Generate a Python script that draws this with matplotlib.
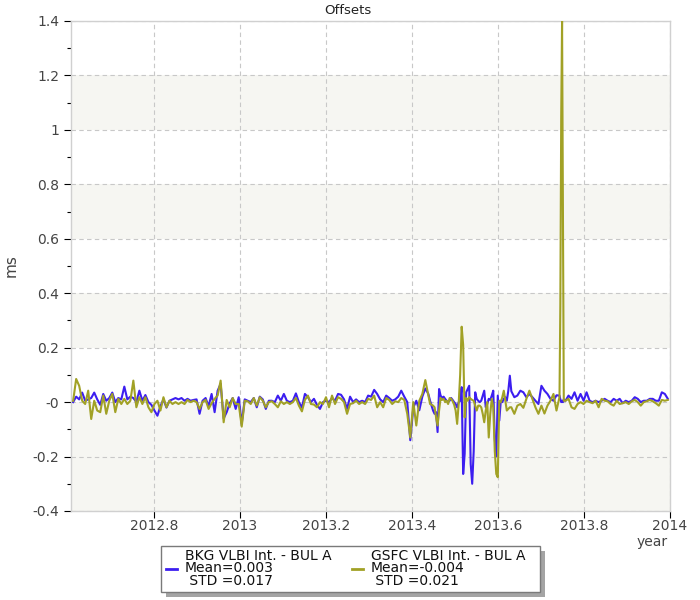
import matplotlib
matplotlib.use("Agg")
import matplotlib.pyplot as plt
from matplotlib.patches import Rectangle
from matplotlib.lines import Line2D
from matplotlib.ticker import FixedLocator, MultipleLocator

# ---------------- data ----------------
years_a = [2012.612, 2012.619, 2012.626, 2012.633, 2012.640, 2012.647, 2012.654, 2012.661, 2012.668, 2012.675,
           2012.682, 2012.689, 2012.696, 2012.703, 2012.710, 2012.717, 2012.724, 2012.731, 2012.738, 2012.745,
           2012.752, 2012.759, 2012.766, 2012.773, 2012.780, 2012.787, 2012.794, 2012.801, 2012.808, 2012.815,
           2012.822, 2012.829, 2012.836, 2012.843, 2012.850, 2012.857, 2012.864, 2012.871, 2012.878, 2012.885,
           2012.892, 2012.899, 2012.906, 2012.913, 2012.920, 2012.927, 2012.934, 2012.941, 2012.948, 2012.955,
           2012.962, 2012.969, 2012.976, 2012.983, 2012.990, 2012.997, 2013.004, 2013.011, 2013.018, 2013.025,
           2013.032, 2013.039, 2013.046, 2013.053, 2013.060, 2013.067, 2013.074, 2013.081, 2013.088, 2013.095,
           2013.102, 2013.109, 2013.116, 2013.123, 2013.130, 2013.137, 2013.144, 2013.151, 2013.158, 2013.165,
           2013.172, 2013.179, 2013.186, 2013.193, 2013.200, 2013.207, 2013.214, 2013.221, 2013.228, 2013.235,
           2013.242, 2013.249, 2013.256, 2013.263, 2013.270, 2013.277, 2013.284, 2013.291, 2013.298, 2013.305,
           2013.312, 2013.319, 2013.326, 2013.333, 2013.340, 2013.347, 2013.354, 2013.361, 2013.368, 2013.375,
           2013.382, 2013.389, 2013.396, 2013.403, 2013.410, 2013.417, 2013.424, 2013.431, 2013.438]
years_b = [2013.4420, 2013.4455, 2013.4490, 2013.4525, 2013.4560, 2013.4595, 2013.4630, 2013.4665, 2013.4700, 2013.4735,
           2013.4770, 2013.4805, 2013.4840, 2013.4875, 2013.4910, 2013.4945, 2013.4980, 2013.5015, 2013.5050, 2013.5085,
           2013.5120, 2013.5155, 2013.5190, 2013.5225, 2013.5260, 2013.5295, 2013.5330, 2013.5365, 2013.5400, 2013.5435,
           2013.5470, 2013.5505, 2013.5540, 2013.5575, 2013.5610, 2013.5645, 2013.5680, 2013.5715, 2013.5750, 2013.5785,
           2013.5820, 2013.5855, 2013.5890, 2013.5925, 2013.5960, 2013.5995, 2013.6030, 2013.6065, 2013.6100, 2013.6135,
           2013.6170, 2013.6205, 2013.6240, 2013.6275]
years_c = [2013.631, 2013.638, 2013.645, 2013.652, 2013.659, 2013.666, 2013.673, 2013.680, 2013.687, 2013.694,
           2013.701, 2013.708, 2013.715, 2013.722, 2013.729, 2013.736, 2013.743,
           2013.745, 2013.747, 2013.749, 2013.751, 2013.753,
           2013.757, 2013.764, 2013.771, 2013.778, 2013.785, 2013.792, 2013.799, 2013.806, 2013.813, 2013.820,
           2013.827, 2013.834, 2013.841, 2013.848, 2013.855, 2013.862, 2013.869, 2013.876, 2013.883, 2013.890,
           2013.897, 2013.904, 2013.911, 2013.918, 2013.925, 2013.932, 2013.939, 2013.946, 2013.953, 2013.960,
           2013.967, 2013.974, 2013.981, 2013.988, 2013.995]

bkg_a = [0.000, 0.020, 0.010, 0.035, 0.005, 0.010, 0.015, 0.035, 0.010, -0.010,
         0.030, 0.005, 0.015, 0.035, 0.000, 0.015, 0.010, 0.057, 0.010, 0.020,
         0.015, 0.000, 0.042, 0.005, 0.026, 0.000, -0.010, -0.031, -0.050, -0.015,
         0.010, -0.020, 0.005, 0.010, 0.015, 0.010, 0.015, 0.005, 0.012, 0.005,
         0.008, 0.010, -0.043, 0.005, 0.015, -0.015, 0.030, -0.037, 0.042, 0.067,
         -0.060, -0.037, -0.005, 0.015, -0.025, 0.018, -0.080, 0.010, 0.005, 0.000,
         0.015, -0.019, 0.020, 0.010, -0.025, 0.005, 0.005, 0.000, 0.024, 0.005,
         0.030, 0.005, 0.000, 0.005, 0.032, 0.000, -0.020, 0.030, 0.018, 0.000,
         0.012, -0.010, -0.025, 0.000, 0.005, 0.000, 0.015, 0.005, 0.030, 0.027,
         0.010, -0.025, 0.020, 0.000, 0.010, 0.000, 0.005, 0.000, 0.024, 0.020,
         0.045, 0.030, 0.010, 0.000, 0.024, 0.015, 0.005, 0.010, 0.020, 0.042,
         0.020, 0.000, -0.140, -0.020, 0.005, -0.030, 0.020, 0.050, 0.030]
bkg_b = [0.005, -0.013, -0.031, -0.043, -0.037, -0.110, 0.048, 0.024, 0.015, 0.020,
         0.012, 0.005, 0.000, 0.005, 0.015, 0.008, 0.000, -0.007, -0.019, 0.000,
         0.005, 0.055, -0.264, -0.190, 0.036, 0.048, 0.060, -0.227, -0.300, -0.180,
         0.036, 0.012, 0.005, 0.000, 0.005, 0.024, 0.042, -0.019, -0.007, 0.012,
         0.008, 0.024, 0.042, -0.135, -0.200, 0.024, -0.068, 0.005, 0.000, 0.012,
         0.018, 0.005, 0.042, 0.097]
bkg_c = [0.040, 0.018, 0.024, 0.042, 0.036, 0.018, 0.030, 0.018, 0.005, -0.007,
         0.060, 0.042, 0.030, 0.012, 0.005, 0.025, 0.024,
         0.010, 0.000, 0.005, 0.000, 0.010,
         0.005, 0.024, 0.012, 0.036, 0.005, 0.030, 0.005, 0.036, 0.005, 0.000,
         0.005, 0.000, 0.005, 0.012, 0.005, 0.000, 0.012, 0.005, 0.012, -0.004,
         0.005, 0.000, 0.005, 0.018, 0.012, 0.000, 0.005, 0.005, 0.012, 0.012,
         0.005, 0.005, 0.036, 0.030, 0.012]

gsfc_a = [0.005, 0.085, 0.060, 0.005, -0.007, 0.042, -0.062, 0.005, -0.031, -0.037,
          0.024, -0.043, 0.005, 0.030, -0.037, 0.012, -0.007, 0.012, -0.007, 0.005,
          0.079, -0.019, 0.018, -0.007, 0.018, -0.019, -0.037, -0.007, 0.005, -0.031,
          0.018, -0.019, 0.005, -0.007, 0.000, -0.007, 0.000, -0.007, 0.008, 0.000,
          0.005, 0.000, -0.025, 0.000, 0.008, -0.025, -0.004, 0.012, 0.024, 0.079,
          -0.074, 0.008, -0.019, 0.015, -0.007, -0.007, -0.090, 0.005, 0.003, -0.007,
          0.015, -0.013, 0.018, 0.005, -0.019, 0.000, 0.003, -0.007, -0.019, 0.003,
          -0.007, 0.000, -0.007, 0.000, 0.015, -0.013, -0.034, 0.008, 0.024, -0.007,
          -0.009, -0.019, 0.000, -0.007, 0.018, -0.019, 0.024, -0.007, 0.018, 0.012,
          0.000, -0.043, -0.007, -0.004, 0.005, -0.007, 0.000, -0.007, 0.012, 0.008,
          0.024, -0.019, 0.000, -0.019, 0.015, 0.008, -0.007, 0.003, 0.000, 0.015,
          0.008, -0.043, -0.130, 0.000, -0.086, 0.005, 0.030, 0.081, 0.024]
gsfc_b = [-0.007, -0.009, -0.013, -0.019, -0.056, -0.086, -0.031, 0.015, 0.008, 0.012,
          0.000, 0.005, -0.007, 0.015, 0.012, 0.003, -0.009, -0.031, -0.080, -0.007,
          0.100, 0.277, 0.210, -0.056, 0.015, 0.005, 0.018, 0.012, 0.008, 0.005,
          -0.013, -0.031, -0.013, -0.013, -0.019, -0.043, -0.074, -0.031, 0.000, -0.130,
          -0.043, 0.012, -0.019, -0.180, -0.264, -0.276, 0.005, 0.000, 0.018, 0.042,
          0.005, -0.031, -0.025, -0.019]
gsfc_c = [-0.019, -0.043, -0.013, -0.007, -0.021, 0.012, 0.042, 0.012, -0.019, -0.043,
          -0.013, -0.042, -0.013, 0.005, 0.030, -0.031, 0.018,
          0.360, 1.050, 1.400, 0.700, 0.005,
          0.005, 0.012, -0.019, -0.025, -0.007, 0.000, -0.007, 0.005, 0.000, -0.004,
          0.005, -0.019, 0.012, 0.005, 0.003, -0.007, -0.013, 0.005, -0.007, -0.004,
          0.000, -0.007, 0.003, 0.008, 0.000, -0.013, 0.000, 0.003, 0.008, 0.003,
          -0.004, -0.013, 0.008, 0.005, 0.008]

years = years_a + years_b + years_c
bkg = bkg_a + bkg_b + bkg_c
gsfc = gsfc_a + gsfc_b + gsfc_c

series_names = ["BKG VLBI Int. - BUL A", "GSFC VLBI Int. - BUL A"]
series_means = ["0.003", "-0.004"]
series_stds = ["0.017", "0.021"]
series_colors = ["#3c1ef0", "#a1a126"]

x_ticks = [2012.8, 2013.0, 2013.2, 2013.4, 2013.6, 2013.8, 2014.0]
x_tick_labels = ["2012.8", "2013", "2013.2", "2013.4", "2013.6", "2013.8", "2014"]
y_ticks = [-0.4, -0.2, 0.0, 0.2, 0.4, 0.6, 0.8, 1.0, 1.2, 1.4]
y_tick_labels = ["-0.4", "-0.2", "-0", "0.2", "0.4", "0.6", "0.8", "1", "1.2", "1.4"]
shaded_bands = [(-0.4, 0.0), (0.2, 0.4), (0.6, 0.8), (1.0, 1.2)]

# ---------------- figure ----------------
plt.rcParams["font.family"] = ["DejaVu Sans"]
W, H = 700, 600
fig = plt.figure(figsize=(7, 6), dpi=100)
ax = fig.add_axes([71 / W, 1 - 511 / H, 599 / W, 490 / H])

ax.set_xlim(2012.607, 2014.0)
ax.set_ylim(-0.4, 1.4)

for lo, hi in shaded_bands:
    ax.axhspan(lo, hi, color="#f6f6f2", zorder=0, lw=0)

ax.xaxis.set_major_locator(FixedLocator(x_ticks))
ax.set_xticklabels(x_tick_labels)
ax.yaxis.set_major_locator(FixedLocator(y_ticks))
ax.set_yticklabels(y_tick_labels)
ax.yaxis.set_minor_locator(MultipleLocator(0.1))

ax.grid(True, which="major", color="#c8c8c8", linestyle=(0, (4, 3)), linewidth=0.8, zorder=1)
ax.set_axisbelow(True)

for sp in ax.spines.values():
    sp.set_color("#d0d0d0")
    sp.set_linewidth(1.0)

ax.tick_params(axis="both", which="major", direction="out", length=5, width=0.8,
               color="black", labelcolor="#444444", labelsize=10)
ax.tick_params(axis="y", which="minor", direction="out", length=3, width=0.8, color="black")
ax.tick_params(axis="x", which="major", pad=1)

ax.plot(years, bkg, color=series_colors[0], lw=1.5, zorder=3)
ax.plot(years, gsfc, color=series_colors[1], lw=1.5, zorder=4)

fig.text(348 / W, 1 - 10 / H, "Offsets", fontsize=9.5, color="#222222", ha="center", va="center")
ax.set_ylabel("ms", fontsize=11, color="#444444", labelpad=10)
fig.text(652 / W, 1 - 542 / H, "year", fontsize=10, color="#444444", ha="center", va="center")

# ---------------- legend box ----------------
def px(x, y):
    return (x / W, 1 - y / H)

lx0, ly0, lx1, ly1 = 161, 546, 540, 592
sh = Rectangle(px(lx0 + 5, ly1 + 5), (lx1 - lx0) / W, (ly1 - ly0) / H,
               transform=fig.transFigure, facecolor="#a4a4a4", edgecolor="none", zorder=1)
fig.add_artist(sh)
box = Rectangle(px(lx0, ly1), (lx1 - lx0) / W, (ly1 - ly0) / H,
                transform=fig.transFigure, facecolor="white", edgecolor="#7a7a7a", lw=1.0, zorder=2)
fig.add_artist(box)

col_x = [166, 352]
for i in range(2):
    x0 = col_x[i]
    fig.add_artist(Line2D([x0 / W, (x0 + 11) / W], [1 - 569 / H, 1 - 569 / H],
                          transform=fig.transFigure, color=series_colors[i], lw=2, zorder=3))
    tx = x0 + 19
    fig.text(tx / W, 1 - 556 / H, series_names[i], fontsize=10, color="#111111", va="center", ha="left", zorder=3)
    fig.text(tx / W, 1 - 568.5 / H, "Mean=" + series_means[i], fontsize=10, color="#111111", va="center", ha="left", zorder=3)
    fig.text(tx / W, 1 - 581 / H, " STD =" + series_stds[i], fontsize=10, color="#111111", va="center", ha="left", zorder=3)

fig.savefig("out.png", dpi=100)
